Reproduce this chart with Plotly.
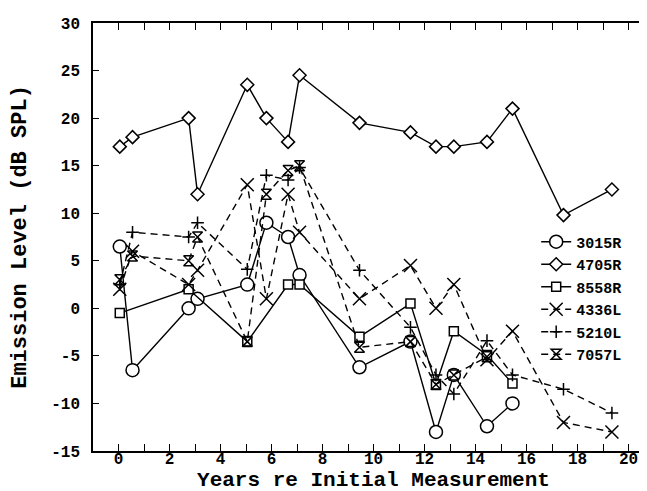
import plotly.graph_objects as go

# ---- data ----
x_3015R = [0.05, 0.55, 2.75, 3.1, 5.05, 5.8, 6.65, 7.1, 9.45, 11.45, 12.45, 13.15, 14.45, 15.45]
y_3015R = [6.5, -6.5, 0, 1, 2.5, 9, 7.5, 3.5, -6.2, -3.5, -13, -7, -12.4, -10]

x_4705R = [0.05, 0.55, 2.75, 3.1, 5.05, 5.8, 6.65, 7.1, 9.45, 11.45, 12.45, 13.15, 14.45, 15.45, 17.45, 19.35]
y_4705R = [17, 18, 20, 12, 23.5, 20, 17.5, 24.5, 19.5, 18.5, 17, 17, 17.5, 21, 9.8, 12.5]

x_8558R = [0.05, 2.75, 5.05, 6.65, 7.1, 9.45, 11.45, 12.45, 13.15, 14.45, 15.45]
y_8558R = [-0.5, 2, -3.5, 2.5, 2.5, -3, 0.5, -8, -2.4, -4.9, -7.9]

x_4336L = [0.05, 0.55, 2.75, 3.1, 5.05, 5.8, 6.65, 7.1, 9.45, 11.45, 12.45, 13.15, 14.45, 15.45, 17.45, 19.35]
y_4336L = [2, 6, 2.5, 4, 13, 1, 12, 8, 1, 4.5, 0, 2.5, -5.4, -2.4, -12, -13]

x_5210L = [0.05, 0.55, 2.75, 3.1, 5.05, 5.8, 6.65, 7.1, 9.45, 11.45, 12.45, 13.15, 14.45, 15.45, 17.45, 19.35]
y_5210L = [2.5, 8, 7.5, 9, 4.1, 14, 13.5, 14.8, 4, -2, -7, -9, -3.4, -7, -8.5, -11]

x_7057L = [0.05, 0.55, 2.75, 3.1, 5.05, 5.8, 6.65, 7.1, 9.45, 11.45, 12.45, 13.15, 14.45]
y_7057L = [3, 5.5, 5, 7.5, -3.5, 12, 14.5, 15, -4.1, -3.5, -8, -7, -5.1]

x_tickvals = list(range(0, 22))
x_ticktext = [str(v) if v % 2 == 0 and v <= 20 else "" for v in x_tickvals]
y_tickvals = [30, 25, 20, 15, 10, 5, 0, -5, -10, -15]
y_ticktext = ["30", "25", "20", "15", "10", "5", "0", "-5", "-10", "-15"]

FONT = "Liberation Mono, Courier New, monospace"
DASH = "7px,5px"

series = [
    ("3015R", x_3015R, y_3015R, "circle", 13, "solid", "white"),
    ("4705R", x_4705R, y_4705R, "diamond", 10, "solid", "white"),
    ("8558R", x_8558R, y_8558R, "square", 9, "solid", "white"),
    ("4336L", x_4336L, y_4336L, "x-thin-open", 13, DASH, "black"),
    ("5210L", x_5210L, y_5210L, "cross-thin-open", 9, DASH, "black"),
    ("7057L", x_7057L, y_7057L, "hourglass-open", 10, DASH, "black"),
]

fig = go.Figure()
for name, xs, ys, sym, size, dash, fill in series:
    fig.add_trace(go.Scatter(
        x=xs, y=ys, name=name, mode="lines+markers",
        line=dict(color="black", width=1.4, dash=dash),
        marker=dict(symbol=sym, size=size, color=fill,
                    line=dict(color="black", width=1.5)),
    ))

fig.update_layout(
    width=647, height=491,
    margin=dict(l=85, r=1, t=15, b=48),
    paper_bgcolor="white", plot_bgcolor="white",
    font=dict(family=FONT, color="black", size=16, weight="bold"),
    legend=dict(x=0.79, y=0.527, xanchor="left", yanchor="top",
                bgcolor="rgba(0,0,0,0)", borderwidth=0,
                font=dict(family=FONT, size=15, weight="bold"),
                itemwidth=30, tracegroupgap=0),
    xaxis=dict(range=[-1, 21], tickvals=x_tickvals, ticktext=x_ticktext,
               ticks="inside", ticklen=7, tickwidth=1.3, tickcolor="black",
               showline=True, linecolor="black", linewidth=1.5, mirror="ticks",
               showgrid=False, zeroline=False, ticklabelstandoff=-8,
               tickfont=dict(family=FONT, size=16, weight="bold"),
               title=dict(text="Years re Initial Measurement", standoff=0,
                          font=dict(family=FONT, size=21, weight="bold")),
               automargin=False),
    yaxis=dict(range=[-15, 30], tickvals=y_tickvals, ticktext=y_ticktext,
               ticks="inside", ticklen=6, tickwidth=1.3, tickcolor="black",
               showline=True, linecolor="black", linewidth=1.5, mirror="ticks",
               showgrid=False, zeroline=False, ticklabelstandoff=8,
               tickfont=dict(family=FONT, size=16, weight="bold"),
               title=dict(text="Emission Level (dB SPL)", standoff=20,
                          font=dict(family=FONT, size=22, weight="bold")),
               automargin=False),
)

fig.write_html("out.html")
